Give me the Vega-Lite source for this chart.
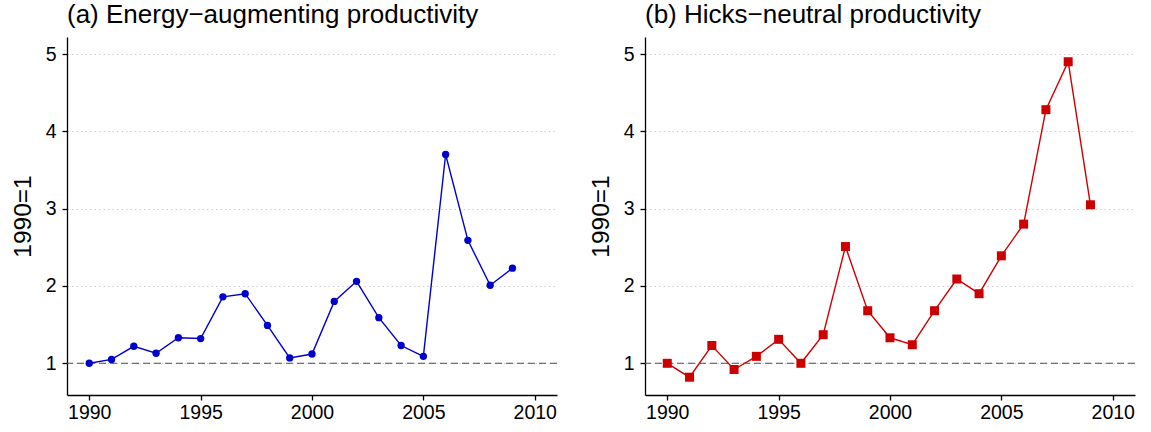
{
  "$schema": "https://vega.github.io/schema/vega-lite/v6.json",
  "background": "white",
  "padding": {"left": 10, "top": 2, "right": 0, "bottom": 0},
  "datasets": {
    "energy": [
      {"year": 1990, "index": 1.00},
      {"year": 1991, "index": 1.05},
      {"year": 1992, "index": 1.22},
      {"year": 1993, "index": 1.13},
      {"year": 1994, "index": 1.33},
      {"year": 1995, "index": 1.32},
      {"year": 1996, "index": 1.86},
      {"year": 1997, "index": 1.90},
      {"year": 1998, "index": 1.49},
      {"year": 1999, "index": 1.07},
      {"year": 2000, "index": 1.12},
      {"year": 2001, "index": 1.80},
      {"year": 2002, "index": 2.06},
      {"year": 2003, "index": 1.59},
      {"year": 2004, "index": 1.23},
      {"year": 2005, "index": 1.09},
      {"year": 2006, "index": 3.70},
      {"year": 2007, "index": 2.59},
      {"year": 2008, "index": 2.01},
      {"year": 2009, "index": 2.23}
    ],
    "hicks": [
      {"year": 1990, "index": 1.00},
      {"year": 1991, "index": 0.82},
      {"year": 1992, "index": 1.23},
      {"year": 1993, "index": 0.92},
      {"year": 1994, "index": 1.09},
      {"year": 1995, "index": 1.31},
      {"year": 1996, "index": 1.00},
      {"year": 1997, "index": 1.37},
      {"year": 1998, "index": 2.51},
      {"year": 1999, "index": 1.68},
      {"year": 2000, "index": 1.33},
      {"year": 2001, "index": 1.24},
      {"year": 2002, "index": 1.68},
      {"year": 2003, "index": 2.09},
      {"year": 2004, "index": 1.90},
      {"year": 2005, "index": 2.39},
      {"year": 2006, "index": 2.80},
      {"year": 2007, "index": 4.28},
      {"year": 2008, "index": 4.90},
      {"year": 2009, "index": 3.05}
    ],
    "baseline": [{"base": 1}]
  },
  "config": {
    "view": {"stroke": null},
    "font": "Liberation Sans",
    "concat": {"spacing": 30},
    "title": {
      "font": "Liberation Sans",
      "fontSize": 26,
      "fontWeight": "normal",
      "color": "black",
      "anchor": "start",
      "frame": "group",
      "baseline": "alphabetic",
      "offset": 9
    },
    "axis": {
      "domainColor": "black",
      "domainWidth": 1.3,
      "tickColor": "black",
      "tickWidth": 1.3,
      "tickSize": 5,
      "labelColor": "black",
      "labelFont": "Liberation Sans",
      "labelFontSize": 19.5,
      "titleColor": "black",
      "titleFont": "Liberation Sans",
      "titleFontSize": 24.5,
      "titleFontWeight": "normal",
      "grid": false
    },
    "axisX": {"labelPadding": 3, "labelFlush": false},
    "axisY": {
      "labelPadding": 6,
      "titlePadding": 10,
      "grid": true,
      "gridColor": "#cfcfcf",
      "gridDash": [1.5, 3],
      "gridWidth": 1
    }
  },
  "hconcat": [
    {
      "width": 490,
      "height": 358,
      "title": "(a) Energy−augmenting productivity",
      "layer": [
        {
          "data": {"name": "energy"},
          "mark": {"type": "line", "color": "#0000CD", "strokeWidth": 1.4},
          "encoding": {
            "x": {
              "field": "year",
              "type": "quantitative",
              "scale": {"domain": [1989, 2011], "nice": false, "zero": false},
              "axis": {"values": [1990, 1995, 2000, 2005, 2010], "format": "d", "title": null}
            },
            "y": {
              "field": "index",
              "type": "quantitative",
              "scale": {"domain": [0.59, 5.22], "nice": false, "zero": false},
              "axis": {"values": [1, 2, 3, 4, 5], "format": "d", "title": "1990=1"}
            }
          }
        },
        {
          "data": {"name": "baseline"},
          "mark": {"type": "rule", "color": "#4d4d4d", "strokeWidth": 1.1, "strokeDash": [7, 4]},
          "encoding": {"y": {"field": "base", "type": "quantitative"}}
        },
        {
          "data": {"name": "energy"},
          "mark": {"type": "point", "shape": "circle", "filled": true, "opacity": 1, "color": "#0000CD", "size": 54},
          "encoding": {
            "x": {"field": "year", "type": "quantitative"},
            "y": {"field": "index", "type": "quantitative"}
          }
        }
      ]
    },
    {
      "width": 490,
      "height": 358,
      "title": "(b) Hicks−neutral productivity",
      "layer": [
        {
          "data": {"name": "hicks"},
          "mark": {"type": "line", "color": "#CD0000", "strokeWidth": 1.4},
          "encoding": {
            "x": {
              "field": "year",
              "type": "quantitative",
              "scale": {"domain": [1989, 2011], "nice": false, "zero": false},
              "axis": {"values": [1990, 1995, 2000, 2005, 2010], "format": "d", "title": null}
            },
            "y": {
              "field": "index",
              "type": "quantitative",
              "scale": {"domain": [0.59, 5.22], "nice": false, "zero": false},
              "axis": {"values": [1, 2, 3, 4, 5], "format": "d", "title": "1990=1"}
            }
          }
        },
        {
          "data": {"name": "baseline"},
          "mark": {"type": "rule", "color": "#4d4d4d", "strokeWidth": 1.1, "strokeDash": [7, 4]},
          "encoding": {"y": {"field": "base", "type": "quantitative"}}
        },
        {
          "data": {"name": "hicks"},
          "mark": {"type": "square", "filled": true, "opacity": 1, "color": "#CD0000", "size": 81},
          "encoding": {
            "x": {"field": "year", "type": "quantitative"},
            "y": {"field": "index", "type": "quantitative"}
          }
        }
      ]
    }
  ]
}
